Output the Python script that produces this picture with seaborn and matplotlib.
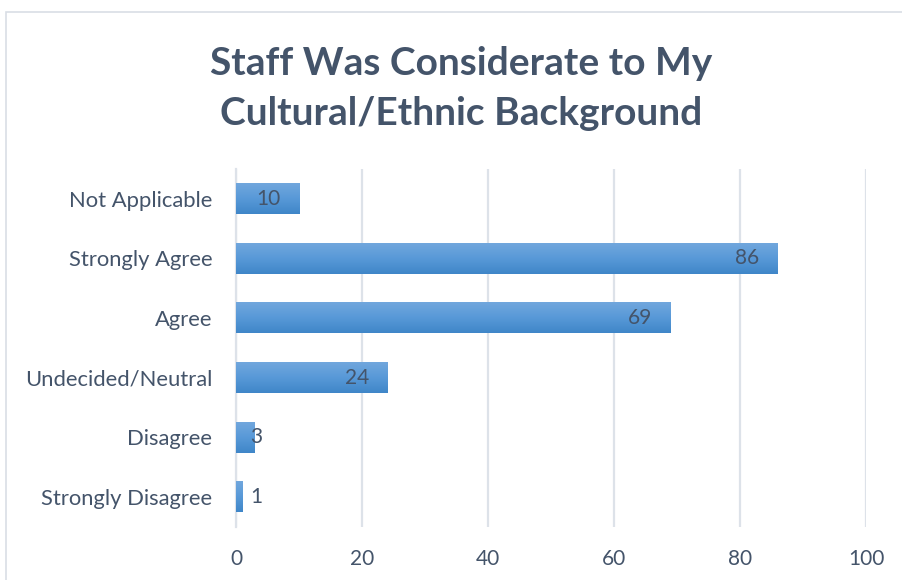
import numpy as np
import pandas as pd
import matplotlib
matplotlib.use("Agg")
import matplotlib.pyplot as plt
import seaborn as sns
from matplotlib.patches import Rectangle
from matplotlib.colors import LinearSegmentedColormap

categories = ["Not Applicable", "Strongly Agree", "Agree",
              "Undecided/Neutral", "Disagree", "Strongly Disagree"]
counts = [10, 86, 69, 24, 3, 1]
x_ticks = [0, 20, 40, 60, 80, 100]
title = "Staff Was Considerate to My\nCultural/Ethnic Background"

df = pd.DataFrame({"category": categories, "count": counts})

sns.set_theme(style="white")
plt.rcParams["font.family"] = ["Lato", "DejaVu Sans"]
text_color = "#44546A"
grid_color = "#DDE2E9"

fig = plt.figure(figsize=(9.02, 5.8), dpi=100)
ax = fig.add_axes([0.2616, 0.0922, 0.6985, 0.6164])

sns.barplot(data=df, x="count", y="category", orient="h", width=0.52,
            color="#5B9BD5", ax=ax, zorder=3)

# vertical gradient fill like the office chart style
cmap = LinearSegmentedColormap.from_list("bar", ["#71A7DD", "#5899D8", "#3F86C8"])
grad = np.linspace(0, 1, 256).reshape(-1, 1)
for p in ax.patches:
    x0, y0 = p.get_x(), p.get_y()
    w, h = p.get_width(), p.get_height()
    p.set_facecolor("none")
    p.set_edgecolor("none")
    im = ax.imshow(grad, cmap=cmap, aspect="auto", zorder=3,
                   extent=(x0, x0 + w, y0 + h, y0), interpolation="bilinear")
    im.set_clip_path(p)

ax.set_xlim(0, 100)
ax.set_ylim(5.5, -0.5)
ax.set_xticks(x_ticks)
ax.set_xlabel("")
ax.set_ylabel("")
ax.tick_params(axis="x", colors=text_color, labelsize=15, length=0, pad=16)
ax.tick_params(axis="y", colors=text_color, labelsize=15.8, length=0, pad=17)
ax.grid(axis="x", color=grid_color, linewidth=1.6, zorder=0)
for s in ["top", "right", "bottom"]:
    ax.spines[s].set_visible(False)
ax.spines["left"].set_color(grid_color)
ax.spines["left"].set_linewidth(1.6)

# value labels at inside end, pushed outside when bar is too short
for i, v in enumerate(counts):
    xc = max(v - 4.8, 3.2)
    ax.text(xc, i, str(v), ha="center", va="center", fontsize=15,
            color=text_color, zorder=5)

fig.text(0.511, 0.848, title, ha="center", va="center", fontsize=28,
         fontweight="bold", color=text_color, linespacing=1.52)

fig.patches.append(Rectangle((6 / 902, -0.05), 1.1, (580 - 12) / 580 + 0.05,
                             transform=fig.transFigure, fill=False,
                             edgecolor="#D9DEE5", linewidth=1.2))

fig.savefig("out.png", dpi=100)
